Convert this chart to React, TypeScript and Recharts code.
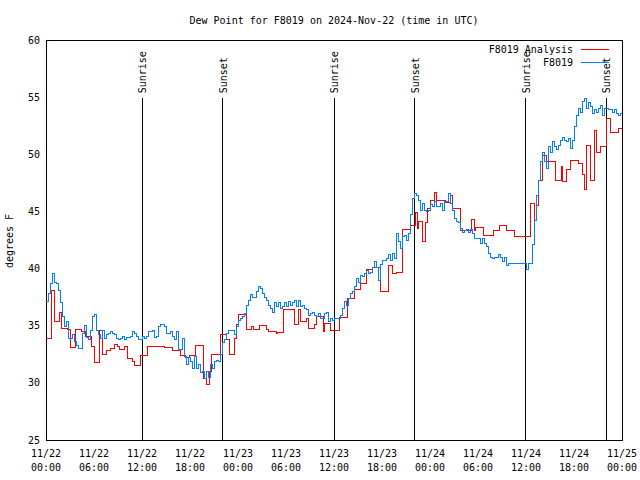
import React from 'react'
import { LineChart, Line, XAxis, YAxis, ReferenceLine, ReferenceArea, ReferenceDot } from 'recharts'

const FONT = '"DejaVu Sans Mono", "Liberation Mono", monospace'

// x axis is hours since 2024-11-22 00:00 UTC
const labelHours = [0, 6, 12, 18, 24, 30, 36, 42, 48, 54, 60, 66, 72]
const tickDates = ['11/22', '11/22', '11/22', '11/22', '11/23', '11/23', '11/23', '11/23', '11/24', '11/24', '11/24', '11/24', '11/25']
const tickTimes = ['00:00', '06:00', '12:00', '18:00', '00:00', '06:00', '12:00', '18:00', '00:00', '06:00', '12:00', '18:00', '00:00']
const minorHours = [0, 2, 4, 6, 8, 10, 12, 14, 16, 18, 20, 22, 24, 26, 28, 30, 32, 34, 36, 38, 40, 42, 44, 46, 48, 50, 52, 54, 56, 58, 60, 62, 64, 66, 68, 70, 72]
const yTicks = [25, 30, 35, 40, 45, 50, 55, 60]

const sunHours = [12.0, 22.12, 36.0, 46.12, 59.88, 70.0]
const sunLabels = ['Sunrise', 'Sunset', 'Sunrise', 'Sunset', 'Sunrise', 'Sunset']
const sunLineTop = 54.9

// F8019 station readings, one value every 15 minutes
const obsStep = 0.25
const obsDay1 = [
  37.1, 37.8, 38.7, 39.6, 38.8, 38.7, 38.1, 37.0,
  35.8, 34.9, 35.4, 33.9, 33.9, 34.2, 33.6, 33.3,
  33.0, 33.0, 34.3, 35.0, 34.0, 33.8, 34.6, 35.8,
  36.0, 34.6, 34.2, 33.9, 34.6, 33.9, 34.2, 34.3,
  34.5, 34.3, 34.2, 33.9, 33.8, 33.9, 34.1, 33.8,
  34.0, 34.0, 34.1, 34.5, 34.3, 34.1, 33.8, 33.8,
  34.1, 33.9, 34.1, 34.5, 34.5, 34.6, 34.0, 34.1,
  34.9, 35.1, 35.1, 34.9, 34.3, 34.3, 34.5, 34.1,
  33.8, 34.5, 32.9, 32.9, 33.9, 32.3, 31.6, 32.2,
  31.9, 31.3, 32.3, 31.3, 31.6, 30.9, 31.0, 30.4,
  31.0, 30.5, 31.6, 31.3, 31.9, 32.0, 31.9, 32.5,
  33.5, 33.8, 34.3, 34.6, 34.6, 34.6, 34.2, 34.9,
]
const obsDay2 = [
  35.5, 35.65, 35.8, 36.1, 36.8, 37.25, 37.7, 37.5,
  37.5, 38.0, 38.4, 38.3, 37.8, 37.5, 37.25, 36.8,
  36.5, 36.2, 37.0, 36.7, 37.0, 36.5, 36.7, 37.0,
  36.7, 37.1, 36.8, 37.0, 37.25, 36.7, 37.25, 36.7,
  36.8, 36.5, 36.4, 35.9, 36.1, 36.2, 35.9, 35.8,
  36.1, 35.65, 35.65, 36.1, 36.2, 35.4, 35.65, 35.5,
  35.65, 35.65, 35.65, 35.9, 36.5, 37.1, 36.8, 37.4,
  37.8, 38.0, 38.4, 39.1, 38.8, 39.4, 39.3, 39.6,
  39.85, 39.6, 39.7, 40.1, 40.6, 40.1, 39.0, 40.4,
  40.7, 40.7, 40.9, 41.2, 40.7, 41.3, 40.9, 43.1,
  42.4, 41.8, 42.8, 42.9, 42.5, 43.1, 44.7, 46.1,
  46.6, 46.4, 46.0, 45.1, 45.7, 45.1, 45.0, 45.1,
]
const obsDay3 = [
  45.6, 45.4, 45.9, 45.4, 45.4, 45.7, 45.1, 45.9,
  45.9, 46.6, 45.7, 45.1, 44.4, 44.1, 44.0, 43.5,
  43.2, 43.3, 43.4, 43.2, 43.4, 43.1, 42.6, 42.6,
  42.6, 42.2, 42.6, 42.2, 41.9, 41.3, 41.0, 40.9,
  41.0, 41.0, 41.2, 41.0, 40.6, 41.0, 40.3, 40.45,
  40.45, 40.45, 40.45, 40.45, 40.45, 40.45, 40.45, 40.45,
  39.9, 40.45, 40.45, 42.1, 44.25, 46.4, 47.75, 49.4,
  50.2, 49.4, 48.8, 50.7, 50.2, 51.1, 50.7, 50.4,
  50.8, 51.25, 51.5, 51.25, 51.1, 51.4, 50.5, 51.25,
  52.4, 53.4, 54.0, 53.7, 54.6, 54.9, 54.0, 54.5,
  54.2, 53.6, 53.9, 53.7, 54.0, 54.3, 53.4, 54.0,
  54.0, 53.9, 53.9, 53.7, 53.9, 53.6, 53.4, 53.6,
  53.6,
]

// F8019 analysis: [hour, value] at each change
const analysis: [number, number][] = [
  [0, 33.9], [0.7, 38.1], [1.05, 35.4], [1.65, 36.2], [1.95, 34.8], [2.65, 34.7], [3.0, 33.1],
  [3.7, 34.7], [4.45, 34.5], [4.95, 34.1], [5.7, 33.2], [6.0, 31.8], [6.65, 34.6], [7.0, 32.5],
  [7.6, 32.8], [8.0, 33.0], [8.5, 33.4], [8.9, 33.2], [9.15, 32.9], [9.75, 33.2], [10.15, 32.1],
  [10.8, 31.9], [11.0, 31.5], [11.75, 32.4], [12.7, 33.2], [14.75, 33.1], [15.8, 32.8],
  [16.75, 32.4], [17.45, 32.2], [17.9, 32.4], [18.7, 33.3], [19.65, 30.4], [20.0, 29.9],
  [20.4, 31.0], [20.7, 32.5], [21.85, 34.2], [22.55, 33.8], [22.9, 32.5], [23.55, 33.9],
  [23.75, 35.1], [24.0, 36.0], [25.0, 34.7], [25.7, 34.9], [25.9, 34.7], [26.7, 35.0],
  [27.6, 34.7], [27.8, 34.5], [28.75, 34.3], [28.95, 34.4], [29.7, 36.4], [31.0, 35.1],
  [31.6, 36.4], [31.8, 35.4], [32.5, 35.6], [32.8, 34.8], [33.6, 35.1], [33.8, 35.8],
  [34.65, 34.5], [34.8, 35.2], [35.6, 34.6], [36.7, 35.7], [37.7, 37.4], [38.5, 38.2],
  [39.25, 38.7], [40.0, 39.9], [40.85, 40.1], [41.75, 38.0], [42.75, 40.3], [43.3, 39.6],
  [43.75, 39.7], [44.6, 43.4], [45.5, 43.8], [46.2, 44.9], [46.4, 43.5], [46.55, 44.1],
  [47.05, 42.4], [47.4, 44.0], [47.7, 45.3], [48.0, 46.0], [48.6, 46.7], [48.75, 46.0],
  [49.9, 45.8], [50.55, 46.4], [50.8, 45.3], [51.75, 43.3], [53.2, 44.3], [53.55, 43.3],
  [53.7, 43.6], [54.7, 42.9], [55.9, 43.3], [56.7, 43.8], [57.5, 43.3], [58.6, 42.8],
  [60.6, 45.7], [61.0, 44.2], [61.3, 45.5], [61.6, 47.75], [62.0, 49.9], [62.6, 49.4],
  [63.7, 47.7], [64.4, 48.9], [64.6, 47.6], [65.1, 48.7], [65.6, 49.5], [66.6, 49.2],
  [67.0, 48.2], [67.35, 46.9], [67.6, 50.8], [68.0, 47.7], [68.6, 52.1], [68.8, 50.2],
  [69.25, 50.7], [70.0, 53.1], [70.6, 51.9], [71.5, 52.3], [72, 52.3],
]

const obsData = [
  ...obsDay1.map((v, i) => ({ t: i * obsStep, v })),
  ...obsDay2.map((v, i) => ({ t: 24 + i * obsStep, v })),
  ...obsDay3.map((v, i) => ({ t: 48 + i * obsStep, v })),
]
const analysisData = analysis.map(([t, v]) => ({ t, v }))

const RED = '#ff0000'
const BLUE = '#0080ff'

function DateTick({ x, y, payload }: any) {
  const i = labelHours.indexOf(payload.value)
  if (i < 0) return <g />
  return (
    <g>
      <text x={x} y={y + 16.5} textAnchor="middle" fontSize={10} fontFamily={FONT} fill="#000">{tickDates[i]}</text>
      <text x={x} y={y + 30.5} textAnchor="middle" fontSize={10} fontFamily={FONT} fill="#000">{tickTimes[i]}</text>
    </g>
  )
}

// rotated label reading upward from just above the top of a sun line
function SunLabel({ viewBox, text }: any) {
  if (!viewBox) return null
  const px = viewBox.x + 4.5
  const py = viewBox.y - 5
  return (
    <text x={px} y={py} transform={`rotate(-90 ${px} ${py})`} textAnchor="start" fontSize={10} fontFamily={FONT} fill="#000">
      {text}
    </text>
  )
}

const noTick = () => <g />

export default function App() {
  return (
    <div style={{ position: 'fixed', left: 0, top: 0, width: 640, height: 480, background: '#fff', shapeRendering: 'crispEdges' }}>
      <LineChart width={640} height={480} margin={{ top: 40, right: 18, bottom: 0, left: 16 }}>
        <XAxis xAxisId="x" dataKey="t" type="number" domain={[0, 72]} ticks={labelHours} interval={0}
          tick={(p: any) => <DateTick {...p} />} tickLine={false} tickSize={0} tickMargin={0} axisLine={false} height={40} allowDataOverflow />
        <XAxis xAxisId="xMinor" dataKey="t" type="number" domain={[0, 72]} ticks={minorHours} interval={0}
          mirror tick={noTick} tickSize={2} tickLine={{ stroke: '#000' }} axisLine={false} />
        <XAxis xAxisId="xMajor" dataKey="t" type="number" domain={[0, 72]} ticks={labelHours} interval={0}
          mirror tick={noTick} tickSize={4} tickLine={{ stroke: '#000' }} axisLine={false} />
        <XAxis xAxisId="xTopMinor" orientation="top" dataKey="t" type="number" domain={[0, 72]} ticks={minorHours} interval={0}
          mirror tick={noTick} tickSize={2} tickLine={{ stroke: '#000' }} axisLine={false} />
        <XAxis xAxisId="xTopMajor" orientation="top" dataKey="t" type="number" domain={[0, 72]} ticks={labelHours} interval={0}
          mirror tick={noTick} tickSize={4} tickLine={{ stroke: '#000' }} axisLine={false} />
        <YAxis yAxisId="y" type="number" domain={[25, 60]} ticks={yTicks} interval={0} width={30}
          tick={{ fontSize: 10, fontFamily: FONT, fill: '#000' }} tickLine={false} tickSize={0} tickMargin={6} axisLine={false} allowDataOverflow />
        <YAxis yAxisId="yLeftTicks" type="number" domain={[25, 60]} ticks={yTicks} interval={0}
          mirror tick={noTick} tickSize={4} tickLine={{ stroke: '#000' }} axisLine={false} />
        <YAxis yAxisId="yRightTicks" orientation="right" type="number" domain={[25, 60]} ticks={yTicks} interval={0}
          mirror tick={noTick} tickSize={4} tickLine={{ stroke: '#000' }} axisLine={false} />
        <ReferenceArea xAxisId="x" yAxisId="y" x1={0} x2={72} y1={25} y2={60} fill="none" stroke="#000" strokeWidth={1} ifOverflow="visible" />
        {sunHours.map((h, i) => (
          <ReferenceLine key={`l${i}`} xAxisId="x" yAxisId="y" segment={[{ x: h, y: 25 }, { x: h, y: sunLineTop }]}
            stroke="#000" strokeWidth={1} />
        ))}
        {sunHours.map((h, i) => (
          <ReferenceDot key={`d${i}`} xAxisId="x" yAxisId="y" x={h} y={sunLineTop} r={0} stroke="none" fill="none"
            label={(p: any) => <SunLabel {...p} text={sunLabels[i]} />} />
        ))}
        <Line xAxisId="x" yAxisId="y" data={analysisData} dataKey="v" type="stepAfter" stroke={RED} strokeWidth={1}
          dot={false} activeDot={false} isAnimationActive={false} />
        <Line xAxisId="x" yAxisId="y" data={obsData} dataKey="v" type="stepAfter" stroke={BLUE} strokeWidth={1}
          dot={false} activeDot={false} isAnimationActive={false} />
      </LineChart>
      <svg width={640} height={480} style={{ position: 'absolute', left: 0, top: 0, pointerEvents: 'none' }}>
        <text x={334} y={23.5} textAnchor="middle" fontSize={10} fontFamily={FONT} fill="#000">
          Dew Point for F8019 on 2024-Nov-22 (time in UTC)
        </text>
        <text x={13} y={241} transform="rotate(-90 13 241)" textAnchor="middle" fontSize={10} fontFamily={FONT} fill="#000">
          degrees F
        </text>
        <text x={573} y={52.5} textAnchor="end" fontSize={10} fontFamily={FONT} fill="#000">F8019 Analysis</text>
        <line x1={581} x2={609} y1={49} y2={49} stroke={RED} strokeWidth={1} />
        <text x={573} y={65.5} textAnchor="end" fontSize={10} fontFamily={FONT} fill="#000">F8019</text>
        <line x1={581} x2={609} y1={62} y2={62} stroke={BLUE} strokeWidth={1} />
      </svg>
    </div>
  )
}
